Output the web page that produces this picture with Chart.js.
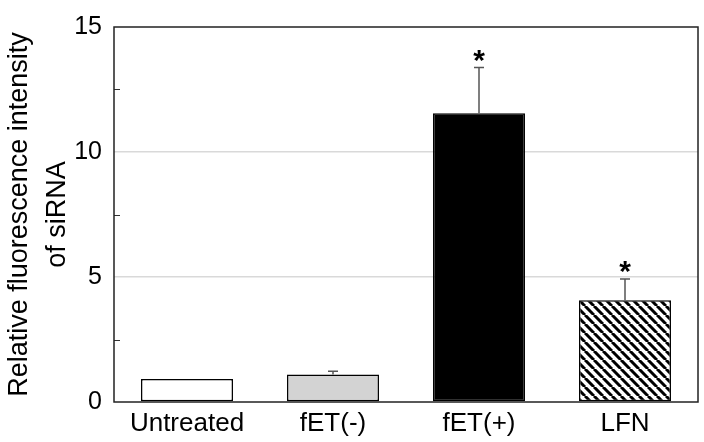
<!DOCTYPE html>
<html>
<head>
<meta charset="utf-8">
<script src="https://cdn.jsdelivr.net/npm/chart.js@4"></script>
<style>
  html, body { margin: 0; padding: 0; background: #fff; }
  #wrap { width: 704px; height: 442px; }
</style>
</head>
<body>
<div id="wrap"><canvas id="chart"></canvas></div>
<script>
const categories = ['Untreated', 'fET(-)', 'fET(+)', 'LFN'];
const values = [0.92, 1.10, 11.55, 4.07];
const errors = [0, 0.13, 1.83, 0.85];
const significant = [false, false, true, true];
const yTickLabels = [0, 5, 10, 15];

const font = "'Liberation Sans', Arial, sans-serif";

// diagonal hatch for the LFN bar
function makeHatch() {
  const size = 9;
  const c = document.createElement('canvas');
  c.width = size; c.height = size;
  const g = c.getContext('2d');
  g.fillStyle = '#fff';
  g.fillRect(0, 0, size, size);
  g.strokeStyle = '#000';
  g.lineWidth = 3;
  g.beginPath();
  for (let k = -1; k <= 1; k++) {
    g.moveTo(k * size, 0);
    g.lineTo(k * size + size, size);
  }
  g.stroke();
  return c;
}
const ctx = document.getElementById('chart').getContext('2d');
const hatch = ctx.createPattern(makeHatch(), 'repeat');

const framePlugin = {
  id: 'frame',
  afterDatasetsDraw(chart) {
    const { ctx, chartArea: a, scales } = chart;
    const y = scales.y;
    ctx.save();
    // minor ticks on the left axis
    ctx.strokeStyle = '#333';
    ctx.lineWidth = 1;
    [2.5, 7.5, 12.5].forEach(v => {
      const py = Math.round(y.getPixelForValue(v)) + 0.5;
      ctx.beginPath();
      ctx.moveTo(a.left, py);
      ctx.lineTo(a.left + 6, py);
      ctx.stroke();
    });
    // error bars and asterisks
    const meta = chart.getDatasetMeta(0);
    meta.data.forEach((bar, i) => {
      const top = y.getPixelForValue(values[i] + errors[i]);
      if (errors[i] > 0) {
        ctx.strokeStyle = '#555';
        ctx.lineWidth = 1.5;
        ctx.beginPath();
        ctx.moveTo(bar.x, bar.y);
        ctx.lineTo(bar.x, top);
        ctx.moveTo(bar.x - 5, top);
        ctx.lineTo(bar.x + 5, top);
        ctx.stroke();
      }
      if (significant[i]) {
        ctx.fillStyle = '#000';
        ctx.font = 'bold 30px ' + font;
        ctx.textAlign = 'center';
        ctx.textBaseline = 'middle';
        ctx.fillText('*', bar.x, top - 6);
      }
    });
    // box frame
    ctx.strokeStyle = '#222';
    ctx.lineWidth = 1.5;
    ctx.strokeRect(a.left, a.top, a.right - a.left, a.bottom - a.top);
    ctx.restore();
  }
};

new Chart(ctx, {
  type: 'bar',
  data: {
    labels: categories,
    datasets: [{
      data: values,
      backgroundColor: ['#ffffff', '#d3d3d3', '#000000', hatch],
      borderColor: '#000',
      borderWidth: 1.5,
      borderSkipped: false,
      barPercentage: 0.63,
      categoryPercentage: 1
    }]
  },
  options: {
    responsive: true,
    maintainAspectRatio: false,
    animation: false,
    layout: { padding: { top: 25, right: 6, left: 0, bottom: 0 } },
    plugins: { legend: { display: false }, tooltip: { enabled: false } },
    scales: {
      x: {
        grid: { display: false, drawTicks: false },
        border: { display: false },
        ticks: { color: '#000', font: { family: font, size: 26 }, padding: 6 },
        afterFit(scale) { scale.height = 40; }
      },
      y: {
        min: 0,
        max: 15,
        afterBuildTicks(scale) {
          scale.ticks = yTickLabels.map(v => ({ value: v }));
        },
        grid: {
          drawTicks: false,
          color: c => (c.tick && (c.tick.value === 5 || c.tick.value === 10)) ? '#d9d9d9' : 'transparent',
          lineWidth: 1.5
        },
        border: { display: false },
        ticks: { color: '#000', font: { family: font, size: 25 }, padding: 12 },
        title: {
          display: true,
          text: ['Relative fluorescence intensity', 'of siRNA'],
          color: '#000',
          font: { family: font, size: 27, lineHeight: 1.42 },
          padding: { top: 0, bottom: 4 }
        },
        afterFit(scale) { scale.width = 114; }
      }
    }
  },
  plugins: [framePlugin]
});
</script>
</body>
</html>
